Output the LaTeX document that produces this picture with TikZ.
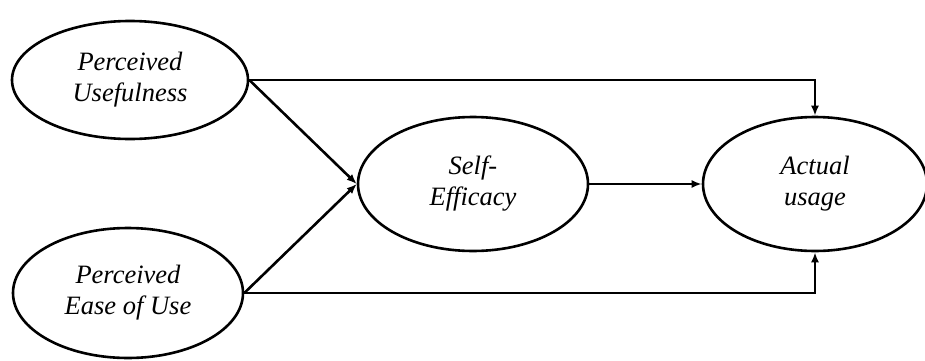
\documentclass[tikz,border=0pt]{standalone}
\usepackage{fontspec}
\setmainfont{Liberation Serif}
\usetikzlibrary{shapes.geometric,arrows.meta}
\begin{document}
\begin{tikzpicture}[x=1pt,y=1pt,
  construct/.style={ellipse,draw,line width=2.6pt,inner sep=0pt,align=center,
    font=\fontsize{26.5}{31}\selectfont\itshape},
  link/.style={line width=2.6pt,-{Latex[length=10pt,width=8pt]}}]
  \useasboundingbox (0,0) rectangle (925,360);
  \node[construct,minimum width=236pt,minimum height=118pt] (pu) at (130,280) {Perceived\\Usefulness};
  \node[construct,minimum width=230pt,minimum height=130pt] (peu) at (128,67) {Perceived\\Ease of Use};
  \node[construct,minimum width=230pt,minimum height=134pt] (se) at (473,176) {Self-\\Efficacy};
  \node[construct,minimum width=224pt,minimum height=134pt] (au) at (815,176) {Actual\\usage};
  \draw[link] (pu.east) -- (se.west);
  \draw[link] (peu.east) -- (se.west);
  \draw[link] (se.east) -- (au.west);
  \draw[link] (pu.east) -- (au.north |- pu.east) -- (au.north);
  \draw[link] (peu.east) -- (au.south |- peu.east) -- (au.south);
\end{tikzpicture}
\end{document}
